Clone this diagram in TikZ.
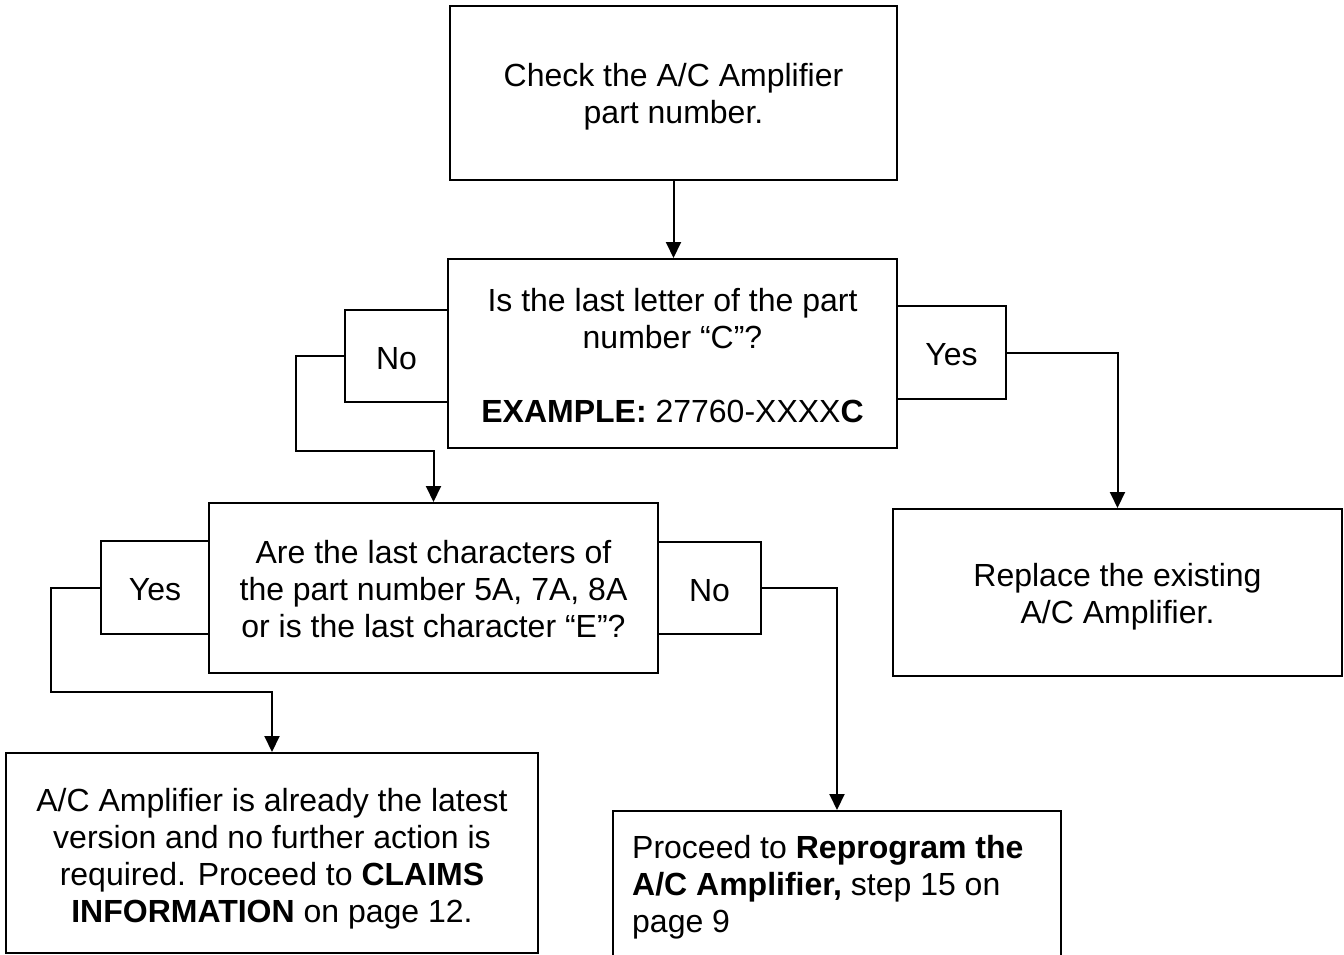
\documentclass[tikz,border=0pt]{standalone}
\usepackage{fontspec}
\setmainfont{Liberation Sans}
\usetikzlibrary{arrows.meta}
\newcommand{\topstrut}[1]{\rule{0pt}{#1}}
\begin{document}
\begin{tikzpicture}[x=1pt,y=-1pt,
  every node/.style={font=\fontsize{32pt}{37pt}\selectfont},
  boxstyle/.style={draw=black, line width=2pt, inner sep=0pt, align=center},
  arr/.style={line width=2pt, -{Triangle[length=16pt,width=15pt]}},
  ]
\useasboundingbox (0,0) rectangle (1344,955);
\clip (0,0) rectangle (1344,955);
\fill[white] (0,0) rectangle (1344,955);
% main boxes
\node[boxstyle, minimum width=447pt, minimum height=174pt] (top) at (673.5,93)
  {\topstrut{31pt}Check the A/C Amplifier\\part number.};
\node[boxstyle, minimum width=449pt, minimum height=189pt] (mid) at (672.5,353.5)
  {\topstrut{27.5pt}Is the last letter of the part\\number “C”?\\[37pt]\textbf{EXAMPLE:} 27760-XXXX\textbf{C}};
\node[boxstyle, minimum width=449pt, minimum height=170pt] (b3) at (433.5,588)
  {\topstrut{25.5pt}Are the last characters of\\the part number 5A, 7A, 8A\\or is the last character “E”?};
\node[boxstyle, minimum width=449pt, minimum height=167pt] (b4) at (1117.5,592.5)
  {\topstrut{31pt}Replace the existing\\A/C Amplifier.};
\node[boxstyle, minimum width=532pt, minimum height=200pt] (b5) at (272,853)
  {\topstrut{35pt}A/C Amplifier is already the latest\\version and no further action is\\required. Proceed to \textbf{CLAIMS}\\\textbf{INFORMATION} on page 12.};
\node[boxstyle, minimum width=448pt, minimum height=164pt] (b6) at (837,893) {};
\node[inner sep=0pt, anchor=north west, align=left] (b6text) at (632,835)
  {Proceed to \textbf{Reprogram the}\\\textbf{A/C Amplifier,} step 15 on\\page 9};
% label boxes
\node[boxstyle, minimum width=103pt, minimum height=92pt] (noL) at (396.5,356) {\topstrut{27pt}No};
\node[boxstyle, minimum width=109pt, minimum height=93pt] (yesR) at (951.5,352.5) {\topstrut{26pt}Yes};
\node[boxstyle, minimum width=108pt, minimum height=93pt] (yesL) at (155,587.5) {\topstrut{26pt}Yes};
\node[boxstyle, minimum width=103pt, minimum height=92pt] (noR) at (709.5,588) {\topstrut{28pt}No};
% connectors
\draw[arr] (top.south) -- (top.south |- mid.north);
\draw[arr] (noL.west) -- ++(-48,0) |- ([yshift=51pt]b3.north) -- (b3.north);
\draw[arr] (yesR.east) -| (b4.north);
\draw[arr] (yesL.west) -- ++(-49,0) |- ([yshift=60pt]b5.north) -- (b5.north);
\draw[arr] (noR.east) -| (b6.north);
\end{tikzpicture}
\end{document}
